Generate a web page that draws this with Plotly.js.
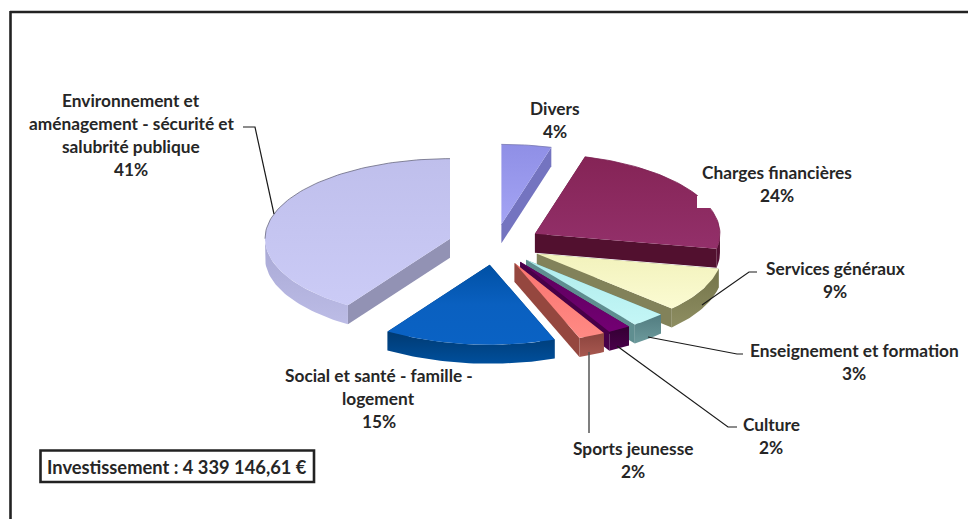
<!DOCTYPE html>
<html><head><meta charset="utf-8">
<script src="https://cdn.plot.ly/plotly-3.0.1.min.js"></script>
<style>html,body{margin:0;padding:0;background:#fff}#c{width:968px;height:519px}</style>
</head><body><div id="c"></div><script>
const categories = ["Divers","Charges financières","Services généraux","Enseignement et formation","Culture","Sports jeunesse","Social et santé - famille - logement","Environnement et aménagement - sécurité et salubrité publique"];
const values = [4.35,23.65,9,3,2,2.3,15,40.7];
const labelLines = [["Divers"],["Charges financières"],["Services généraux"],["Enseignement et formation"],["Culture"],["Sports jeunesse"],["Social et santé - famille -","logement"],["Environnement et","aménagement - sécurité et","salubrité publique"]];
const labelCenterX = [555,777,835,854,771,633,378.5,131];
const labelTopY = [108,172,268,350,424,448,375,100];
const topColors = [["#a4a4f4","#8f8fe6"],["#93306a","#852456"],["#fbfbd2","#f2f2bc"],["#c4f6f6","#aeecec"],["#730073","#5c005c"],["#ff8a84","#fa7470"],["#0a62c4","#0a60c0","#0050a4"],["#cbcbf6","#bfbfec"]];
const arcColors = [["#7c7cc8","#7c7cc8"],["#5a1238","#4a0c2c"],["#8e8e62","#74744a"],["#6c9a9c","#527c80"],["#4a004a","#330033"],["#a85850","#8c443e"],["#004f9c","#003a72"],["#bcbce6","#a8a8d4"]];
const cutColors = ["#7474c0","#52102f","#82825a","#5f8e90","#480048","#95473f","#004080","#9292b4"];
const outlineColors = ["#7878b0","#7a2050",null,null,null,null,null,"#6a6a80"];

const CX=495, CY=244.5, RX=185, RY=80, DEPTH=19, EXPLODE=47, SQ=RY/RX;
const total = values.reduce((a,b)=>a+b,0);
const traces=[];
function pt(v,deg,dy){const t=deg*Math.PI/180;return [v[0]+RX*Math.sin(t), v[1]-RY*Math.cos(t)+(dy||0)];}
function poly(points,colors){
  const pts=points.concat([points[0]]);
  const tr={type:"scatter",mode:"lines",x:pts.map(p=>p[0]),y:pts.map(p=>p[1]),line:{width:0},fill:"toself",hoverinfo:"skip",showlegend:false};
  if(Array.isArray(colors)){const n=colors.length-1;tr.fillgradient={type:"vertical",colorscale:colors.map((c,k)=>[k/n,c])};tr.fillcolor=colors[0];}
  else tr.fillcolor=colors;
  traces.push(tr);
}
function arc(v,a,b,dy){const out=[];const n=Math.max(4,Math.ceil((b-a)/1.5));for(let i=0;i<=n;i++)out.push(pt(v,a+(b-a)*i/n,dy));return out;}

let cum=0;
const slices=values.map((val,i)=>{const a=cum/total*360;cum+=val;const b=cum/total*360;const m=(a+b)/2*Math.PI/180;
  return {i,a,b,v:[CX+EXPLODE*Math.sin(m),CY-EXPLODE*SQ*Math.cos(m)]};});
slices.slice().sort((p,q)=>p.v[1]-q.v[1]).forEach(s=>{
  const {i,a,b,v}=s;
  const low=Math.max(a,90),high=Math.min(b,270);
  poly([v,pt(v,a),pt(v,a,DEPTH),[v[0],v[1]+DEPTH]],cutColors[i]);
  poly([v,pt(v,b),pt(v,b,DEPTH),[v[0],v[1]+DEPTH]],cutColors[i]);
  if(high>low) poly(arc(v,low,high,0).concat(arc(v,low,high,DEPTH).reverse()),arcColors[i]);
  poly([v].concat(arc(v,a,b,0)),topColors[i]);
  if(outlineColors[i]){const lo=Math.max(a,b>270?270:a),hi=b;
    const ln=arc(v,lo,hi,0);
    traces.push({type:"scatter",mode:"lines",x:ln.map(p=>p[0]),y:ln.map(p=>p[1]),line:{width:0.8,color:outlineColors[i]},hoverinfo:"skip",showlegend:false});}
});

// leader lines
const leaders=[[[243,127],[255,127],[274,214]],[[757,272],[749,272],[702,305]],[[743,354],[737,354],[648,337]],[[737,427],[728,427],[617,346]],[[589,433],[589,352]]];
leaders.forEach((l,k)=>traces.push({type:"scatter",mode:"lines",x:l.map(p=>p[0]),y:l.map(p=>p[1]),line:{width:k===4?1.5:1.2,color:k===4?"#555":"#1a1a1a"},hoverinfo:"skip",showlegend:false}));

const LINE=23, font={family:"Lato, Carlito, sans-serif",size:17.3,color:"#262626"};
const annotations=[];
function txt(x,y,s){annotations.push({x,y,xref:"x",yref:"y",text:"<b>"+s+"</b>",showarrow:false,xanchor:"center",yanchor:"middle",font});}
labelLines.forEach((lines,i)=>{
  const all=lines.concat([Math.round(values[i])+"%"]);
  all.forEach((s,k)=>txt(labelCenterX[i],labelTopY[i]+k*LINE,s));
});
annotations.push({x:177,y:466.5,xref:"x",yref:"y",text:"<b>Investissement : 4 339 146,61 €</b>",showarrow:false,xanchor:"center",yanchor:"middle",font:{family:font.family,size:18.3,color:"#262626"}});

const layout={width:968,height:519,margin:{l:0,r:0,t:0,b:0},paper_bgcolor:"#fff",plot_bgcolor:"#fff",showlegend:false,
  xaxis:{range:[0,968],visible:false,fixedrange:true},
  yaxis:{range:[519,0],visible:false,fixedrange:true},
  annotations,
  shapes:[
   {type:"line",xref:"x",yref:"y",x0:10,x1:968,y0:12,y1:12,line:{color:"#222",width:2.6}},
   {type:"line",xref:"x",yref:"y",x0:10.5,x1:10.5,y0:11,y1:519,line:{color:"#222",width:2.6}},
   {type:"rect",xref:"x",yref:"y",x0:40.5,x1:314,y0:450.5,y1:482,line:{color:"#222",width:2.6},fillcolor:"rgba(255,255,255,0)"},
   {type:"rect",xref:"x",yref:"y",x0:697,x1:712,y0:196,y1:208,line:{width:0},fillcolor:"#fff",layer:"above"}
  ]};
Plotly.newPlot("c",traces,layout,{displayModeBar:false,staticPlot:true});
</script></body></html>
